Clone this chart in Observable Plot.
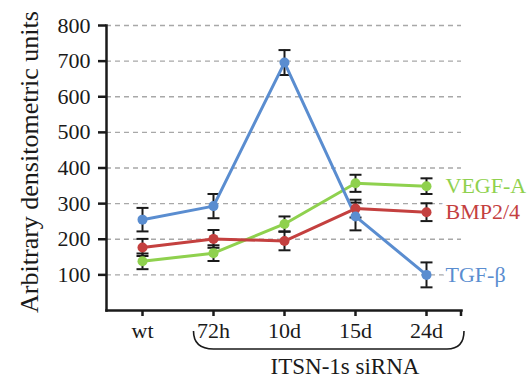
<!DOCTYPE html>
<html>
<head>
<meta charset="utf-8">
<script src="https://cdn.jsdelivr.net/npm/d3@7"></script>
<script src="https://cdn.jsdelivr.net/npm/@observablehq/plot@0.6"></script>
<style>
  html, body { margin: 0; padding: 0; background: white; }
</style>
</head>
<body>
<div id="chart"></div>
<script>
const categories = ["wt", "72h", "10d", "15d", "24d"];
const seriesNames = ["VEGF-A", "BMP2/4", "TGF-β"];
const seriesColors = ["#8fd14e", "#c4403f", "#5a8dd0"];
const vegfValues = [138, 161, 243, 357, 349];
const vegfErrors = [22, 22, 21, 24, 22];
const bmpValues = [177, 201, 195, 286, 276];
const bmpErrors = [24, 25, 26, 25, 25];
const tgfValues = [255, 293, 696, 264, 100];
const tgfErrors = [33, 34, 35, 39, 35];
const yTicks = [100, 200, 300, 400, 500, 600, 700, 800];
const yTitle = "Arbitrary densitometric units";
const xTitle = "ITSN-1s siRNA";

const valueSets = [vegfValues, bmpValues, tgfValues];
const errorSets = [vegfErrors, bmpErrors, tgfErrors];
const rows = [];
seriesNames.forEach((s, si) => {
  categories.forEach((c, ci) => {
    rows.push({series: s, cat: c, value: valueSets[si][ci], err: errorSets[si][ci]});
  });
});
const lastRows = rows.filter(d => d.cat === categories[categories.length - 1]);

const W = 531, H = 384, mL = 106, mR = 70, mT = 25, mB = 74;
const font = "'Liberation Serif', 'Times New Roman', serif";

// horizontal cap symbol for error bars
const capSymbol = {
  draw(context, size) {
    const w = Math.sqrt(size / Math.PI);
    context.moveTo(-w, 0);
    context.lineTo(w, 0);
  }
};

const plot = Plot.plot({
  width: W, height: H,
  marginLeft: mL, marginRight: mR, marginTop: mT, marginBottom: mB,
  style: {fontFamily: font, fontSize: "22px", color: "#1a1a1a", background: "white"},
  x: {type: "point", domain: categories, padding: 0.5},
  y: {domain: [0, 800]},
  color: {domain: seriesNames, range: seriesColors},
  marks: [
    Plot.ruleY(yTicks, {stroke: "#a8a8a8", strokeWidth: 1.3, strokeDasharray: "5,4"}),
    Plot.axisY({ticks: yTicks, tickSize: 8, tickPadding: 8, strokeWidth: 2.5, label: null, fontSize: 22}),
    Plot.axisX({tickSize: 6, tickPadding: 6, strokeWidth: 2.5, label: null, fontSize: 22}),
    Plot.frame({anchor: "left", stroke: "#1a1a1a", strokeWidth: 2.5}),
    Plot.frame({anchor: "bottom", stroke: "#1a1a1a", strokeWidth: 2.5}),
    Plot.ruleX(rows, {x: "cat", y1: d => d.value - d.err, y2: d => d.value + d.err, stroke: "#1a1a1a", strokeWidth: 2}),
    Plot.dot(rows, {x: "cat", y: d => d.value - d.err, symbol: capSymbol, r: 6, stroke: "#1a1a1a", strokeWidth: 2, fill: "none"}),
    Plot.dot(rows, {x: "cat", y: d => d.value + d.err, symbol: capSymbol, r: 6, stroke: "#1a1a1a", strokeWidth: 2, fill: "none"}),
    Plot.line(rows, {x: "cat", y: "value", z: "series", stroke: "series", strokeWidth: 3}),
    Plot.dot(rows, {x: "cat", y: "value", fill: "series", r: 5}),
    Plot.text(lastRows, {x: "cat", y: "value", text: "series", fill: "series", dx: 19, textAnchor: "start",
      stroke: "white", strokeWidth: 8, fontSize: 22}),
    Plot.text([yTitle], {frameAnchor: "left", text: d => d, rotate: -90, textAnchor: "middle", dx: -77, dy: -6, fontSize: 26, fill: "#1a1a1a"}),
    Plot.text([xTitle], {frameAnchor: "bottom", text: d => d, textAnchor: "middle", dx: 61, dy: 63, fontSize: 23, fill: "#1a1a1a"})
  ]
});

document.getElementById("chart").appendChild(plot);

// brace under the ITSN-1s siRNA categories and end tick of the x axis, from Plot's scales
const xs = plot.scale("x");
const ys = plot.scale("y");
const svg = d3.select(plot.tagName.toLowerCase() === "svg" ? plot : plot.querySelector("svg"));
const x0 = ys.apply(0);
const left = xs.apply("72h") - 19.5;
const right = xs.apply("24d") + 38;
const topY = x0 + 21, botY = x0 + 39;
svg.append("path")
  .attr("d", `M${left},${topY} Q${left},${botY} ${left + 20},${botY} L${right - 17},${botY} Q${right},${botY} ${right},${topY}`)
  .attr("fill", "none").attr("stroke", "#1a1a1a").attr("stroke-width", 1.6);
svg.append("line")
  .attr("x1", W - mR).attr("x2", W - mR).attr("y1", x0).attr("y2", x0 + 6)
  .attr("stroke", "#1a1a1a").attr("stroke-width", 2.5);
</script>
</body>
</html>
